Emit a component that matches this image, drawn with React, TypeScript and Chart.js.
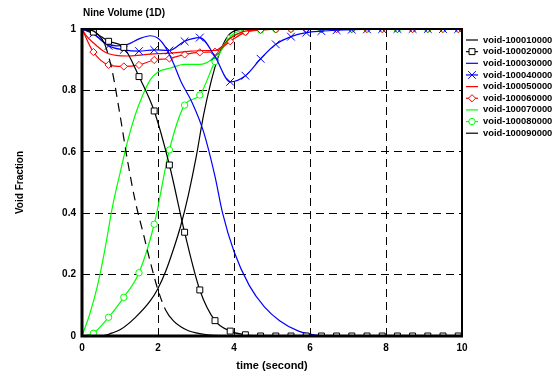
import React, { useEffect, useRef } from 'react';
import { Chart, registerables } from 'chart.js';

Chart.register(...registerables);

// ---------- data ----------
const seriesLabels = [
  'void-100010000',
  'void-100020000',
  'void-100030000',
  'void-100040000',
  'void-100050000',
  'void-100060000',
  'void-100070000',
  'void-100080000',
  'void-100090000',
];

const xTicks = [0, 2, 4, 6, 8, 10];
const yTicks = [0, 0.2, 0.4, 0.6, 0.8, 1];
const yTickLabels = ['0', '0.2', '0.4', '0.6', '0.8', '1'];

// times where markers are drawn (preceded by t = 0)
const markerTimes = [0, 0.3, 0.7, 1.1, 1.5, 1.9, 2.3, 2.7, 3.1, 3.5, 3.9, 4.3, 4.7, 5.1, 5.5, 5.9, 6.3, 6.7, 7.1, 7.5, 7.9, 8.3, 8.7, 9.1, 9.5, 9.9];

const t1 = [0, 0.2, 0.4, 0.6, 0.8, 1.0, 1.2, 1.4, 1.6, 1.8, 2.0, 2.2, 2.4, 2.6, 2.8, 3.0, 3.3, 3.6, 4.0, 10];
const v1 = [1, 0.998, 0.985, 0.95, 0.86, 0.72, 0.57, 0.44, 0.34, 0.24, 0.15, 0.085, 0.05, 0.03, 0.017, 0.01, 0.004, 0.001, 0, 0];

const v2 = [1, 0.99, 0.96, 0.94, 0.845, 0.733, 0.557, 0.338, 0.15, 0.05, 0.016, 0.004, 0, 0, 0, 0, 0, 0, 0, 0, 0, 0, 0, 0, 0, 0];

const t3 = [0, 0.3, 0.6, 0.9, 1.2, 1.5, 1.8, 2.0, 2.2, 2.4, 2.6, 2.9, 3.2, 3.5, 3.7, 4.0, 4.4, 4.8, 5.2, 5.7, 6.1, 6.5, 10];
const v3 = [1, 0.985, 0.955, 0.945, 0.95, 0.968, 0.978, 0.97, 0.94, 0.89, 0.83, 0.76, 0.665, 0.52, 0.4, 0.275, 0.165, 0.095, 0.05, 0.016, 0.004, 0, 0];

const v4 = [1, 0.985, 0.945, 0.932, 0.928, 0.932, 0.93, 0.96, 0.972, 0.91, 0.828, 0.848, 0.903, 0.95, 0.975, 0.988, 0.993, 0.996, 0.998, 0.999, 1, 1, 1, 1, 1, 1];

const t5 = [0, 0.1, 0.3, 0.6, 0.9, 1.2, 1.6, 2.0, 2.4, 2.8, 3.2, 3.5, 3.7, 3.9, 4.2, 4.6, 5.0, 10];
const v5 = [1, 0.98, 0.955, 0.925, 0.914, 0.912, 0.916, 0.92, 0.922, 0.927, 0.93, 0.93, 0.945, 0.97, 0.99, 0.998, 1, 1];

const v6 = [1, 0.925, 0.883, 0.878, 0.883, 0.899, 0.904, 0.917, 0.924, 0.926, 0.96, 0.99, 0.997, 0.999, 1, 1, 1, 1, 1, 1, 1, 1, 1, 1, 1, 1];

const t7 = [0, 0.2, 0.4, 0.6, 0.8, 1.0, 1.2, 1.4, 1.6, 1.8, 2.0, 2.3, 2.7, 3.1, 3.4, 3.7, 4.0, 4.3, 4.8, 10];
const v7 = [0, 0.07, 0.16, 0.28, 0.42, 0.53, 0.635, 0.72, 0.785, 0.835, 0.86, 0.872, 0.885, 0.885, 0.9, 0.945, 0.985, 0.997, 1, 1];

const v8 = [0, 0.009, 0.061, 0.126, 0.206, 0.364, 0.606, 0.752, 0.785, 0.894, 0.97, 0.99, 0.997, 0.999, 1, 1, 1, 1, 1, 1, 1, 1, 1, 1, 1, 1];

const t9 = [0, 0.5, 0.8, 1.0, 1.4, 1.8, 2.0, 2.2, 2.4, 2.6, 2.8, 3.0, 3.2, 3.4, 3.6, 3.8, 4.0, 4.4, 10];
const v9 = [0, 0, 0.01, 0.02, 0.06, 0.115, 0.155, 0.21, 0.28, 0.36, 0.46, 0.58, 0.72, 0.83, 0.915, 0.97, 0.993, 1, 1];

const seriesTimes = [t1, markerTimes, t3, markerTimes, t5, markerTimes, t7, markerTimes, t9];
const seriesValues = [v1, v2, v3, v4, v5, v6, v7, v8, v9];

// ---------- styles ----------
const seriesColors = ['#000000', '#000000', '#0000ff', '#0000ff', '#ff0000', '#ff0000', '#00ff00', '#00ff00', '#000000'];
const seriesMarkers: (string | null)[] = [null, 'rect', null, 'crossRot', null, 'rectRot', null, 'circle', null];
const markerRadius: Record<string, number> = { rect: 4.2, crossRot: 5.5, rectRot: 3.6, circle: 3.2 };
const FONT = '"Liberation Sans", Arial, Helvetica, sans-serif';

function zip(xs: number[], ys: number[]) {
  return xs.map((x, i) => ({ x, y: ys[i] }));
}

function drawMarker(ctx: CanvasRenderingContext2D, style: string, x: number, y: number, r: number, color: string) {
  ctx.save();
  ctx.strokeStyle = color;
  ctx.fillStyle = '#ffffff';
  ctx.lineWidth = 1;
  ctx.setLineDash([]);
  ctx.beginPath();
  if (style === 'rect') {
    const s = r * Math.SQRT2;
    ctx.rect(x - s / 2, y - s / 2, s, s);
    ctx.fill();
    ctx.stroke();
  } else if (style === 'rectRot') {
    ctx.moveTo(x - r, y);
    ctx.lineTo(x, y - r);
    ctx.lineTo(x + r, y);
    ctx.lineTo(x, y + r);
    ctx.closePath();
    ctx.fill();
    ctx.stroke();
  } else if (style === 'circle') {
    ctx.arc(x, y, r, 0, Math.PI * 2);
    ctx.fill();
    ctx.stroke();
  } else if (style === 'crossRot') {
    const d = r * Math.SQRT1_2;
    ctx.moveTo(x - d, y - d);
    ctx.lineTo(x + d, y + d);
    ctx.moveTo(x + d, y - d);
    ctx.lineTo(x - d, y + d);
    ctx.stroke();
  }
  ctx.restore();
}

const decorPlugin = {
  id: 'decor',
  afterDatasetsDraw(chart: any) {
    const { ctx, chartArea } = chart;
    const { left, right, top, bottom } = chartArea;
    ctx.save();
    ctx.strokeStyle = '#000';
    ctx.setLineDash([]);
    ctx.lineWidth = 2;
    ctx.beginPath();
    ctx.moveTo(left, top);
    ctx.lineTo(right, top);
    ctx.lineTo(right, bottom);
    ctx.stroke();
    ctx.lineWidth = 3;
    ctx.beginPath();
    ctx.moveTo(left, top - 1);
    ctx.lineTo(left, bottom);
    ctx.lineTo(right + 1, bottom);
    ctx.stroke();
    ctx.restore();
  },
  afterDraw(chart: any) {
    const { ctx, chartArea } = chart;
    ctx.save();
    ctx.fillStyle = '#000';
    // title
    ctx.font = `bold 10px ${FONT}`;
    ctx.textAlign = 'left';
    ctx.textBaseline = 'middle';
    ctx.fillText('Nine Volume (1D)', chartArea.left + 1, 13);
    // x title
    ctx.font = `bold 11px ${FONT}`;
    ctx.textAlign = 'center';
    ctx.fillText('time (second)', (chartArea.left + chartArea.right) / 2, 366);
    // y title
    ctx.save();
    ctx.translate(20, (chartArea.top + chartArea.bottom) / 2);
    ctx.rotate(-Math.PI / 2);
    ctx.font = `bold 10px ${FONT}`;
    ctx.fillText('Void Fraction', 0, 0);
    ctx.restore();
    // legend
    seriesLabels.forEach((label, i) => {
      const y = 40 + i * 11.65;
      const color = seriesColors[i];
      ctx.save();
      ctx.strokeStyle = color;
      ctx.lineWidth = 1.2;
      ctx.beginPath();
      ctx.moveTo(466, y);
      ctx.lineTo(478, y);
      ctx.stroke();
      ctx.restore();
      const m = seriesMarkers[i];
      if (m) drawMarker(ctx, m, 472, y, markerRadius[m], color);
      ctx.font = `bold 9.4px ${FONT}`;
      ctx.textAlign = 'left';
      ctx.textBaseline = 'middle';
      ctx.fillStyle = '#000';
      ctx.fillText(label, 483, y);
    });
    ctx.restore();
  },
};

export default function App() {
  const ref = useRef<HTMLCanvasElement>(null);

  useEffect(() => {
    document.body.style.margin = '0';
    const canvas = ref.current!;
    const datasets = seriesLabels.map((label, i) => {
      const marker = seriesMarkers[i];
      const ds: any = {
        label,
        data: zip(seriesTimes[i], seriesValues[i]),
        borderColor: seriesColors[i],
        backgroundColor: '#ffffff',
        borderWidth: 1.2,
        fill: false,
        cubicInterpolationMode: 'monotone',
        pointRadius: marker ? (c: any) => (c.dataIndex === 0 ? 0 : markerRadius[marker]) : 0,
        pointHoverRadius: 0,
        pointStyle: marker || 'circle',
        pointBorderColor: seriesColors[i],
        pointBackgroundColor: '#ffffff',
        pointBorderWidth: 1,
      };
      if (i === 0) {
        ds.segment = {
          borderDash: (c: any) => {
            const dx = c.p1.x - c.p0.x;
            const dy = c.p1.y - c.p0.y;
            return Math.hypot(dx, dy) > 14 ? [9, 6] : [];
          },
        };
      }
      return ds;
    });

    const tickFont = { family: FONT, size: 10, weight: 'bold' as const };

    const chart = new Chart(canvas, {
      type: 'line',
      data: { datasets },
      options: {
        animation: false,
        responsive: false,
        maintainAspectRatio: false,
        layout: { padding: { left: 0, top: 29, right: 98, bottom: 0 } },
        plugins: { legend: { display: false }, title: { display: false }, tooltip: { enabled: false } },
        scales: {
          x: {
            type: 'linear',
            min: 0,
            max: 10,
            afterBuildTicks: (s: any) => {
              s.ticks = xTicks.map((v) => ({ value: v }));
            },
            ticks: { font: tickFont, color: '#000', padding: 6, maxRotation: 0, callback: (v: any) => String(v) },
            grid: { color: '#000', lineWidth: 1, drawTicks: false },
            border: { display: false, dash: [8, 5] },
            afterFit: (s: any) => {
              s.height = 43;
            },
          },
          y: {
            type: 'linear',
            min: 0,
            max: 1,
            afterBuildTicks: (s: any) => {
              s.ticks = yTicks.map((v) => ({ value: v }));
            },
            ticks: {
              font: tickFont,
              color: '#000',
              padding: 6,
              callback: (v: any) => {
                const idx = yTicks.indexOf(Number(v));
                return idx >= 0 ? yTickLabels[idx] : String(v);
              },
            },
            grid: { color: '#000', lineWidth: 1, drawTicks: false },
            border: { display: false, dash: [8, 5] },
            afterFit: (s: any) => {
              s.width = 82;
            },
          },
        },
      },
      plugins: [decorPlugin],
    });
    return () => chart.destroy();
  }, []);

  return (
    <div style={{ width: 560, height: 379 }}>
      <canvas ref={ref} width={560} height={379} style={{ display: 'block' }} />
    </div>
  );
}
